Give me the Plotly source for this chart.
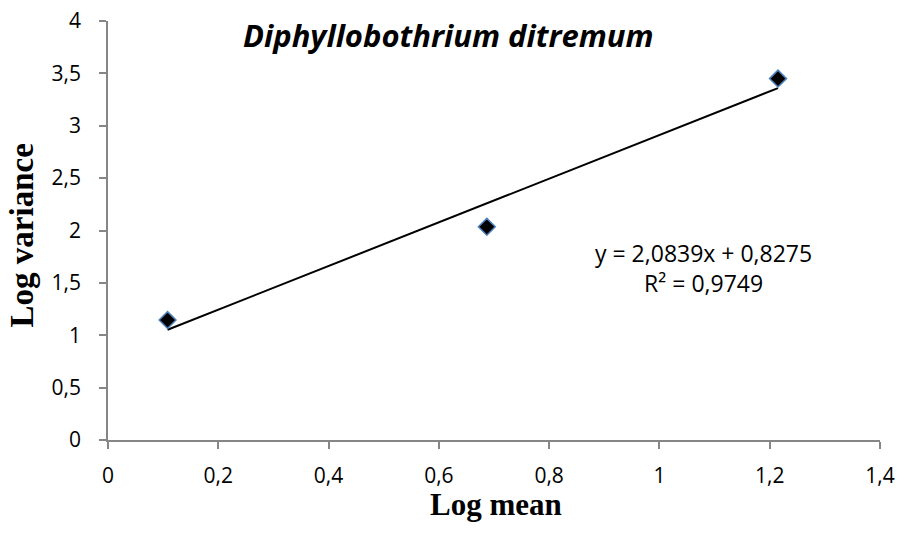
import plotly.graph_objects as go
import numpy as np

# Log-transformed mean and variance of parasite counts
log_mean = [0.108, 0.687, 1.215]
log_variance = [1.145, 2.035, 3.45]

# Linear trendline (Taylor's power law fit)
slope = 2.0839
intercept = 0.8275
r_squared = 0.9749

x_ticks = [0, 0.2, 0.4, 0.6, 0.8, 1.0, 1.2, 1.4]
x_tick_text = ["0", "0,2", "0,4", "0,6", "0,8", "1", "1,2", "1,4"]
y_ticks = [0, 0.5, 1, 1.5, 2, 2.5, 3, 3.5, 4]
y_tick_text = ["0", "0,5", "1", "1,5", "2", "2,5", "3", "3,5", "4"]

fit_x = np.array([min(log_mean), max(log_mean)])
fit_y = slope * fit_x + intercept

axis_color = "#868686"
sans = "Open Sans, Noto Sans, sans-serif"
serif = "Liberation Serif, Times New Roman, serif"
tick_font = dict(family=sans, size=21, color="#000000")

fig = go.Figure()
fig.add_trace(go.Scatter(
    x=fit_x, y=fit_y, mode="lines",
    line=dict(color="#000000", width=2),
    hoverinfo="skip", showlegend=False,
))
fig.add_trace(go.Scatter(
    x=log_mean, y=log_variance, mode="markers",
    marker=dict(symbol="diamond", size=13, color="#000000",
                line=dict(color="#4f81bd", width=1.5)),
    showlegend=False,
))

fig.update_layout(
    width=904, height=534,
    margin=dict(l=108, r=24, t=21, b=94),
    paper_bgcolor="#ffffff", plot_bgcolor="#ffffff",
    separators=",.",
    xaxis=dict(
        range=[0, 1.4], tickvals=x_ticks, ticktext=x_tick_text,
        showgrid=False, zeroline=False, showline=True, automargin=False,
        linecolor=axis_color, linewidth=1.5,
        ticks="outside", ticklen=7, tickcolor=axis_color, tickwidth=1.5,
        tickfont=tick_font, ticklabelstandoff=9,
    ),
    yaxis=dict(
        range=[0, 4], tickvals=y_ticks, ticktext=y_tick_text,
        showgrid=False, zeroline=False, showline=True, automargin=False,
        linecolor=axis_color, linewidth=1.5,
        ticks="outside", ticklen=7, tickcolor=axis_color, tickwidth=1.5,
        tickfont=tick_font, ticklabelstandoff=14,
    ),
    annotations=[
        dict(text="<b><i>Diphyllobothrium ditremum</i></b>",
             xref="paper", yref="paper", x=0.4417, y=0.966,
             xanchor="center", yanchor="middle", showarrow=False,
             font=dict(family=sans, size=31, color="#000000")),
        dict(text="<b>Log mean</b>",
             xref="paper", yref="paper", x=0.5026, y=-0.153,
             xanchor="center", yanchor="middle", showarrow=False,
             font=dict(family=serif, size=31, color="#000000")),
        dict(text="<b>Log variance</b>",
             xref="paper", yref="paper", x=-0.111, y=0.489,
             xanchor="center", yanchor="middle", showarrow=False,
             textangle=-90,
             font=dict(family=serif, size=33, color="#000000")),
        dict(text=f"y = {slope:.4f}x + {intercept:.4f}".replace(".", ",")
             + "<br>" + f"R² = {r_squared:.4f}".replace(".", ","),
             xref="x", yref="y", x=1.08, y=1.64,
             xanchor="center", yanchor="middle", showarrow=False,
             align="center",
             font=dict(family=sans, size=23, color="#000000")),
    ],
)

fig.write_html("out.html")
